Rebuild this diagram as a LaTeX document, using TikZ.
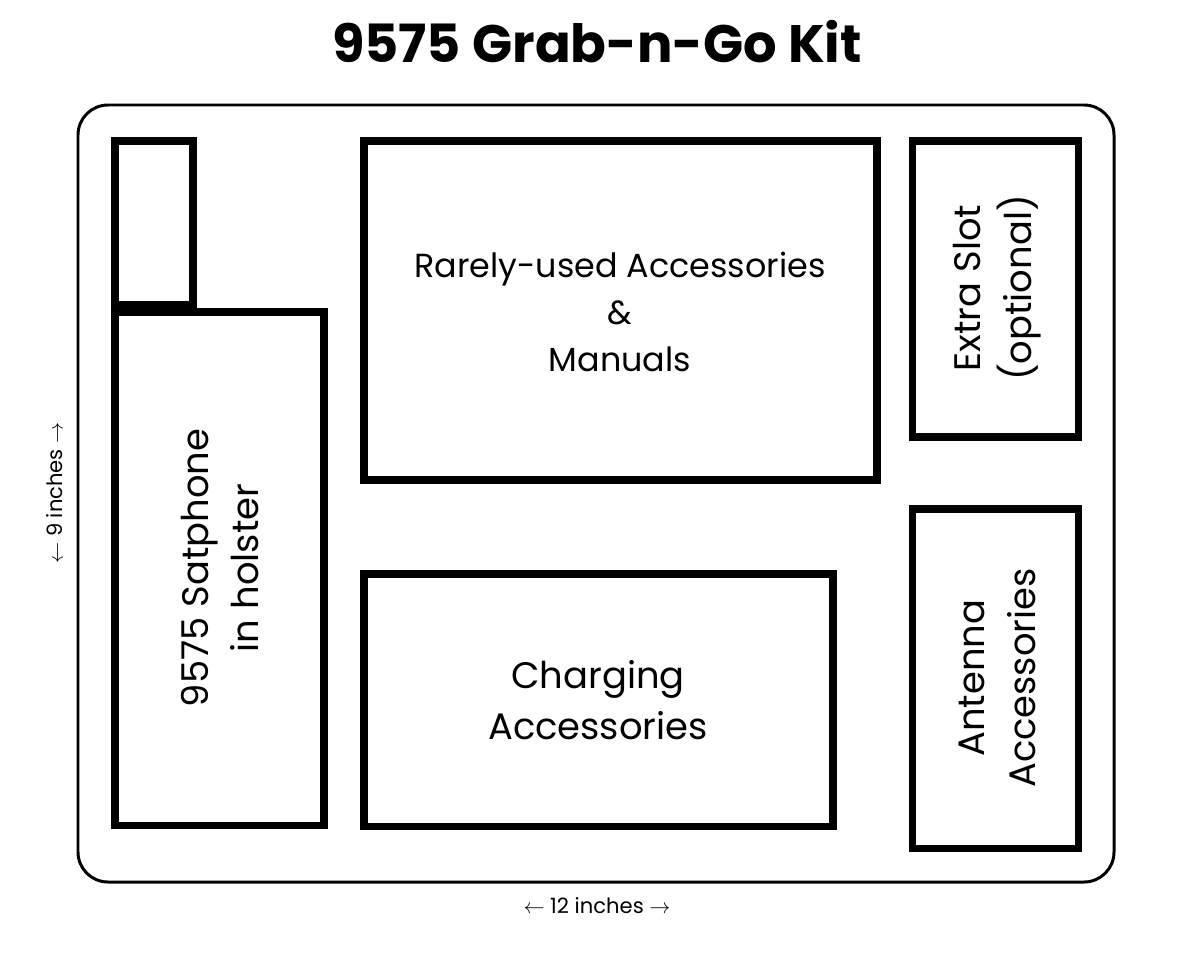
\documentclass[tikz,border=0pt]{standalone}
\usepackage{fontspec}
\setmainfont{Poppins}
\usetikzlibrary{positioning}
\tikzset{%
  slotBox/.style={%
    draw=black,
    line width=4pt,
    align=center
  },
  slotText/.style={%
    align=center,
    font=\fontsize{19}{27}\selectfont
  },
  bigText/.style={%
    align=center,
    font=\fontsize{21}{29}\selectfont
  },
  dimText/.style={%
    font=\fontsize{12}{14}\selectfont
  }
}
\begin{document}
\begin{tikzpicture}[x=0.02cm,y=-0.02cm]
  \useasboundingbox (0,0) rectangle (1196,964);
  \node[font=\bfseries\fontsize{30}{34}\selectfont] (title) at (597,42) {9575 Grab-n-Go Kit};

  % case outline
  \draw[line width=1.7pt, rounded corners=0.6cm] (78,105) rectangle (1114,882);
  \node[dimText] (width) at (597,906) {$\leftarrow$ 12 inches $\rightarrow$};
  \node[dimText, rotate=90] (height) at (55,493) {$\leftarrow$ 9 inches $\rightarrow$};

  % slots
  \draw[slotBox] (115,141) rectangle (193,305);
  \draw[slotBox] (115,312) rectangle (324,825);
  \draw[slotBox] (364,141) rectangle (877,480);
  \draw[slotBox] (912,141) rectangle (1078,437);
  \draw[slotBox] (364,574) rectangle (833,826);
  \draw[slotBox] (912,509) rectangle (1078,848);

  \node[bigText, rotate=90] (phone) at (220,568) {9575 Satphone\\in holster};
  \node[slotText] (rare) at (620,312) {Rarely-used Accessories\\\&\\Manuals};
  \node[bigText, rotate=90] (extra) at (997,288) {Extra Slot\\(optional)};
  \node[bigText] (charge) at (598,700) {Charging\\Accessories};
  \node[bigText, rotate=90] (antenna) at (997,678) {Antenna\\Accessories};
\end{tikzpicture}
\end{document}
